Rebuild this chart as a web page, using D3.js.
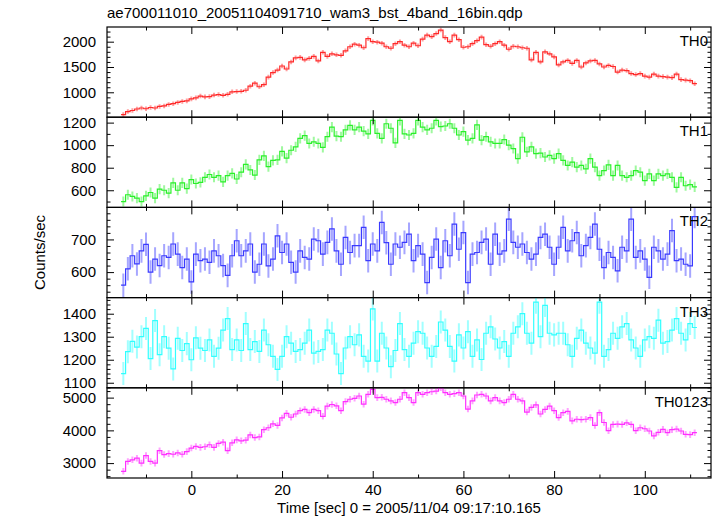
<!DOCTYPE html>
<html><head><meta charset="utf-8">
<script src="https://cdn.jsdelivr.net/npm/d3@7"></script>
<style>
body{margin:0;background:#fff}
svg{display:block}
text{font-family:"Liberation Sans",Arial,Helvetica,sans-serif;fill:#000}
</style>
</head><body>
<svg id="c" width="717" height="516"></svg>
<script>
// ---- DATA ----
const title = "ae700011010_20051104091710_wam3_bst_4band_16bin.qdp";
const xLabel = "Time [sec] 0 = 2005/11/04 09:17:10.165";
const yLabel = "Counts/sec";
const bandNames = ["TH0", "TH1", "TH2", "TH3", "TH0123"];
const binStart = -15;   // centre of first 1-s bin
const binWidth = 1;
const xTickLabels = [0, 20, 40, 60, 80, 100];

const th0 = [560,620,640,670,690,675,700,690,720,730,760,775,800,820,830,
870,890,925,910,915,945,955,940,960,1010,1015,1020,1040,1120,1180,1110,1150,1300,1390,1440,1520,1460,1600,1680,1690,1640,1670,1710,1620,1790,1710,1760,1740,1730,1820,1900,1950,1930,1880,2060,
2000,1990,1970,1900,1870,1960,2000,1930,1900,1970,1920,2050,2130,2100,2160,2230,2080,2000,2130,2040,1890,1900,1960,2020,2090,1940,1910,1960,2000,1930,1850,1910,1900,1880,1870,1640,1790,1600,1800,1760,1700,1540,1600,1630,1570,1630,1500,1580,1620,1630,1560,1500,1530,1510,1400,1440,1430,1370,1350,1370,
1320,1300,1360,1320,1310,1300,1290,1360,1250,1240,1230,1170];

const th1 = [500,560,545,530,500,550,580,530,610,600,575,665,600,665,615,
695,660,670,715,740,715,730,675,730,750,700,760,830,780,735,870,905,810,865,870,945,885,955,985,1060,1085,1015,1030,1015,980,1075,1160,1080,1075,1135,1175,1135,1160,1125,1100,
1220,1105,1060,1190,1150,1020,1220,1100,1090,1105,1220,1160,1135,1150,1220,1165,1170,1190,1150,1090,1120,1045,1060,1180,1045,1075,1030,1015,1015,1050,1000,970,880,1070,940,985,925,930,895,910,880,925,865,820,850,805,820,790,880,805,730,775,825,730,820,730,715,730,775,760,
685,745,685,745,730,745,715,625,715,640,650,630];

const th2 = [560,610,650,625,665,685,600,640,620,650,645,686,655,614,640,
570,655,635,640,630,665,650,620,590,650,696,650,665,686,600,624,686,619,640,711,660,686,630,600,665,645,640,701,696,655,691,732,665,624,706,660,681,681,737,635,
686,665,752,690,624,686,676,691,716,635,681,655,568,645,701,614,696,650,747,670,721,568,655,660,691,701,624,716,655,665,762,691,676,686,660,640,655,706,716,676,624,676,737,665,696,721,650,681,706,747,670,614,660,645,604,676,665,762,645,665,
640,584,676,665,640,655,727,635,640,624,619,770];

const th3 = [1140,1235,1280,1255,1300,1336,1205,1370,1222,1300,1250,1160,1293,1240,1270,
1200,1295,1250,1240,1286,1215,1250,1329,1379,1244,1286,1240,1357,1244,1279,1236,1329,1265,1215,1158,1215,1300,1272,1236,1244,1272,1329,1229,1236,1244,1329,1315,1225,1140,1251,1300,1265,1308,1215,1194,
1421,1194,1315,1251,1170,1240,1357,1244,1215,1272,1322,1315,1251,1215,1258,1364,1329,1258,1194,1308,1251,1322,1215,1286,1201,1315,1343,1290,1251,1279,1215,1315,1343,1400,1315,1272,1450,1300,1436,1315,1308,1315,1315,1265,1215,1293,1329,1272,1251,1229,1450,1215,1244,1315,1293,1343,1357,1286,1251,1215,
1286,1300,1293,1372,1272,1279,1329,1379,1315,1286,1357,1340];

const th0123 = [2750,3050,3100,3150,3000,3230,3050,3000,3380,3260,3290,3270,3310,3270,3350,
3460,3510,3480,3500,3560,3480,3600,3640,3380,3620,3710,3680,3700,3860,3780,3800,4020,4080,4200,4150,4380,4520,4400,4500,4600,4640,4540,4640,4600,4430,4740,4790,4750,4600,4880,4950,4980,5050,4800,5100,
5250,5000,5010,4950,4900,4850,4950,5150,5000,4850,5150,5100,5150,5180,5200,5300,5150,5100,5120,5150,5050,4650,4900,5080,5100,5050,4900,5000,4900,4850,4950,5100,4950,4900,4560,4700,4780,4500,4640,4740,4600,4390,4540,4580,4290,4340,4330,4340,4390,4150,4540,4240,3990,4180,4190,4180,4230,4180,3990,4080,
4050,3980,3830,3940,4030,3930,4020,4040,3980,3880,3870,3930];

// 1-sigma error bar half-heights per band (counts/sec)
const bandErrors = [45, 45, 36, 50, 100];

// ---- AXIS / STYLE SETTINGS ----
const series = [th0, th1, th2, th3, th0123];
const yDomains = [[508, 2290], [448, 1248], [522, 798], [1078, 1470], [2545, 5300]];
const yMajor = [500, 200, 100, 100, 1000];
const yMinor = [100, 100, 20, 20, 200];
const colors = ["#ff2a2a", "#2af02a", "#3a3aff", "#30ffff", "#ff30ff"];

const L = 107, R = 711, T = 27, B = 478;
const H = (B - T) / 5;
const svg = d3.select("#c");

const x = d3.scaleLinear().domain([-18.6, 114.6]).range([L, R]);
const times = series[0].map((_, i) => binStart + i * binWidth);

function ticksFor(domain, step) {
  const a = Math.ceil(domain[0] / step) * step;
  return d3.range(a, domain[1] + 1e-9, step);
}
const xMajorTicks = ticksFor(x.domain(), 20);
const xMinorTicks = ticksFor(x.domain(), 10).filter(v => v % 20 !== 0);

svg.append("text").attr("x", L).attr("y", 18).attr("font-size", 15).text(title);

series.forEach((vals, i) => {
  const y0 = T + i * H, y1 = y0 + H;
  const y = d3.scaleLinear().domain(yDomains[i]).range([y1, y0]);
  const g = svg.append("g");
  const clipId = "clip" + i;
  svg.append("clipPath").attr("id", clipId).append("rect")
    .attr("x", L).attr("y", y0).attr("width", R - L).attr("height", H);
  const dg = g.append("g").attr("clip-path", `url(#${clipId})`);
  const err = bandErrors[i];

  // error bars
  dg.selectAll("line.err").data(vals).join("line")
    .attr("x1", (d, k) => x(times[k])).attr("x2", (d, k) => x(times[k]))
    .attr("y1", d => y(d - err)).attr("y2", d => y(d + err))
    .attr("stroke", colors[i]).attr("stroke-opacity", 0.45).attr("stroke-width", 2);

  // step line
  const pts = vals.map((d, k) => [times[k] - binWidth / 2, d]);
  pts.push([times[times.length - 1] + binWidth / 2, vals[vals.length - 1]]);
  dg.append("path").datum(pts)
    .attr("d", d3.line().x(d => x(d[0])).y(d => y(d[1])).curve(d3.curveStepAfter))
    .attr("fill", "none").attr("stroke", colors[i]).attr("stroke-width", 1.2);

  // axes (inward ticks on all 4 sides)
  const yMaj = ticksFor(yDomains[i], yMajor[i]);
  const yMin = ticksFor(yDomains[i], yMinor[i]).filter(v => Math.abs(v % yMajor[i]) > 1e-6);
  const mk = (sel) => sel.call(s => s.select(".domain").remove())
                         .attr("font-size", 15).attr("font-family", null);

  g.append("g").attr("transform", `translate(${L},0)`)
    .call(d3.axisLeft(y).tickValues(yMaj).tickSize(-7).tickPadding(11).tickFormat(d3.format("d")))
    .call(mk);
  g.append("g").attr("transform", `translate(${L},0)`)
    .call(d3.axisLeft(y).tickValues(yMin).tickSize(-3.5).tickFormat("")).call(mk);
  g.append("g").attr("transform", `translate(${R},0)`)
    .call(d3.axisRight(y).tickValues(yMaj).tickSize(-7).tickFormat("")).call(mk);
  g.append("g").attr("transform", `translate(${R},0)`)
    .call(d3.axisRight(y).tickValues(yMin).tickSize(-3.5).tickFormat("")).call(mk);

  const last = i === series.length - 1;
  g.append("g").attr("transform", `translate(0,${y1})`)
    .call(d3.axisBottom(x).tickValues(last ? xTickLabels : xMajorTicks).tickSize(-7).tickPadding(6)
      .tickFormat(last ? d3.format("d") : ""))
    .call(mk);
  g.append("g").attr("transform", `translate(0,${y1})`)
    .call(d3.axisBottom(x).tickValues(xMinorTicks).tickSize(-3.5).tickFormat("")).call(mk);
  g.append("g").attr("transform", `translate(0,${y0})`)
    .call(d3.axisTop(x).tickValues(xMajorTicks).tickSize(-7).tickFormat("")).call(mk);
  g.append("g").attr("transform", `translate(0,${y0})`)
    .call(d3.axisTop(x).tickValues(xMinorTicks).tickSize(-3.5).tickFormat("")).call(mk);

  g.selectAll(".tick line").attr("stroke", "#000").attr("stroke-width", 1);

  // frame
  g.append("rect").attr("x", L).attr("y", y0).attr("width", R - L).attr("height", H)
    .attr("fill", "none").attr("stroke", "#000").attr("stroke-width", 1.2);

  g.append("text").attr("x", 708).attr("y", y0 + 19).attr("text-anchor", "end")
    .attr("font-size", 15).text(bandNames[i]);
});

svg.append("text").attr("x", (L + R) / 2).attr("y", 513).attr("text-anchor", "middle")
  .attr("font-size", 15).text(xLabel);
svg.append("text").attr("transform", `translate(45,${(T + B) / 2}) rotate(-90)`)
  .attr("text-anchor", "middle").attr("font-size", 15).text(yLabel);
</script>
</body></html>
